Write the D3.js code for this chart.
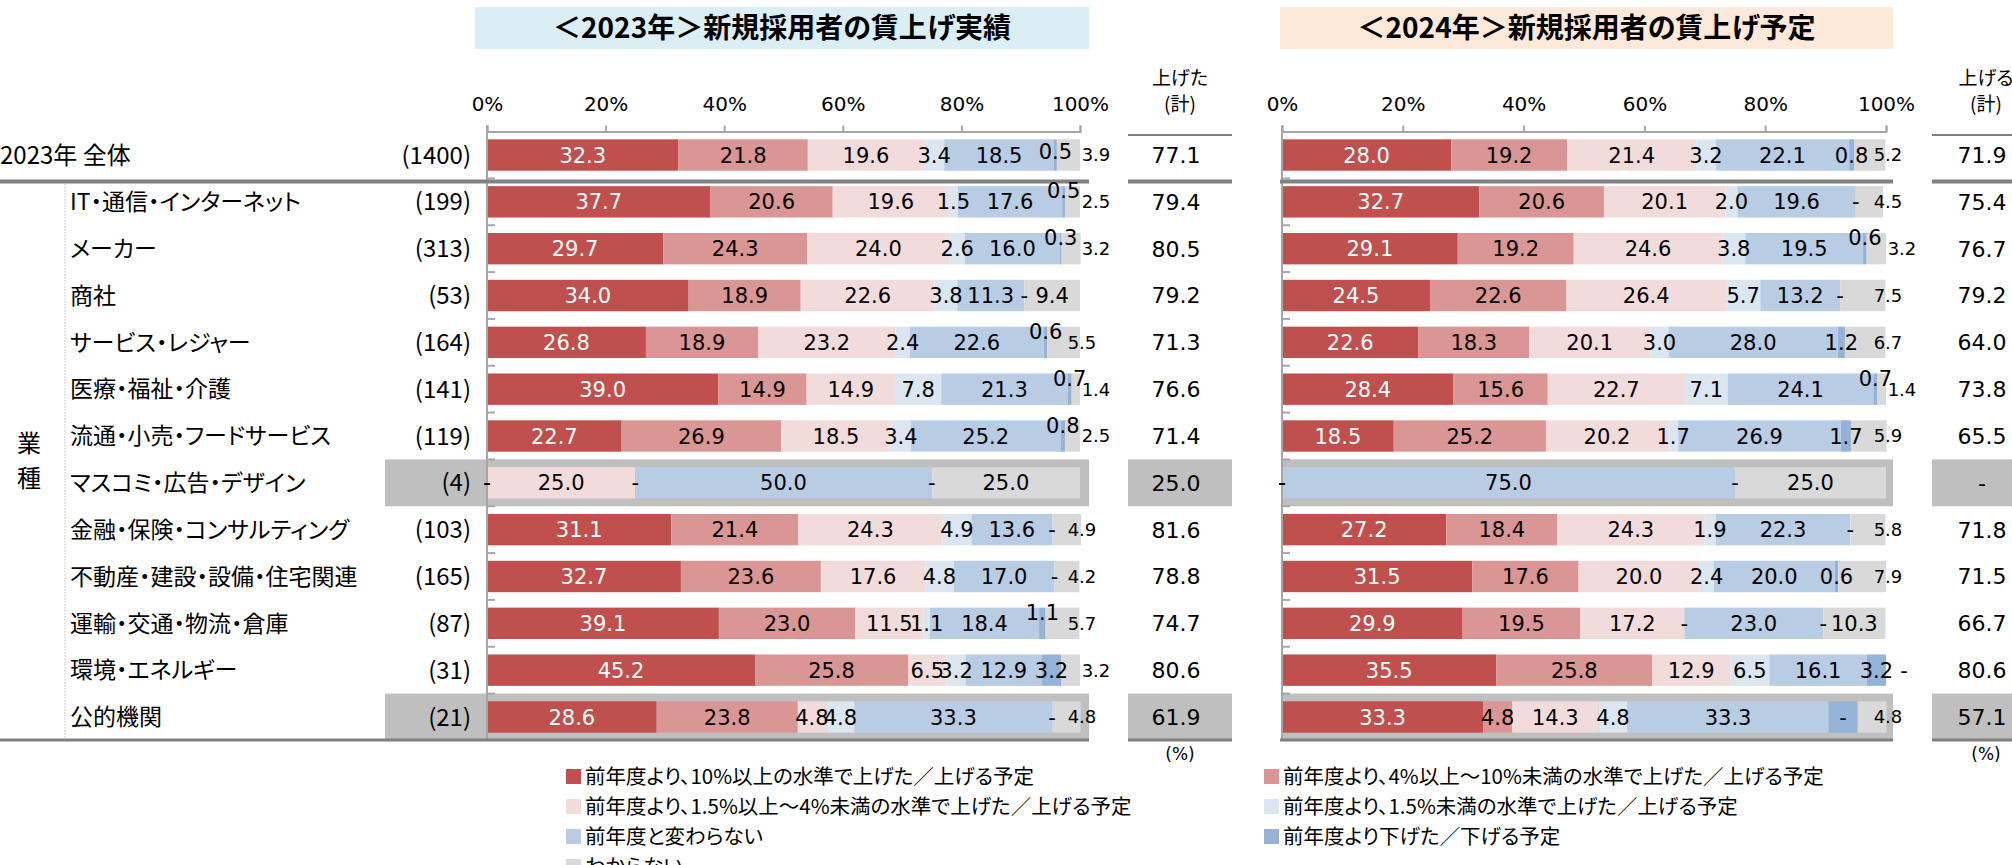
<!DOCTYPE html>
<html>
<head>
<meta charset="utf-8">
<script src="https://cdn.jsdelivr.net/npm/d3@7"></script>
<style>
body { margin: 0; background: #fff; }
svg { display: block; font-family: "Noto Sans CJK JP", sans-serif; font-feature-settings: "palt"; }
</style>
</head>
<body>
<div id="chart"></div>
<script>
var categories = ["2023年 全体", "IT・通信・インターネット", "メーカー", "商社", "サービス・レジャー",
                  "医療・福祉・介護", "流通・小売・フードサービス", "マスコミ・広告・デザイン",
                  "金融・保険・コンサルティング", "不動産・建設・設備・住宅関連", "運輸・交通・物流・倉庫",
                  "環境・エネルギー", "公的機関"];
var counts = ["(1400)", "(199)", "(313)", "(53)", "(164)", "(141)", "(119)", "(4)", "(103)", "(165)", "(87)", "(31)", "(21)"];
var highlightRows = [7, 12];
var ticks = [0, 20, 40, 60, 80, 100];

var seriesNames = ["前年度より、10%以上の水準で上げた／上げる予定",
                   "前年度より、4%以上～10%未満の水準で上げた／上げる予定",
                   "前年度より、1.5%以上～4%未満の水準で上げた／上げる予定",
                   "前年度より、1.5%未満の水準で上げた／上げる予定",
                   "前年度と変わらない",
                   "前年度より下げた／下げる予定",
                   "わからない"];
var seriesColors = ["#c0504d", "#da9694", "#f2dcdb", "#dce6f1", "#b8cce4", "#95b3d7", "#d9d9d9"];

// 2023 実績
var s1_2023 = [32.3, 37.7, 29.7, 34.0, 26.8, 39.0, 22.7, 0, 31.1, 32.7, 39.1, 45.2, 28.6];
var s2_2023 = [21.8, 20.6, 24.3, 18.9, 18.9, 14.9, 26.9, 0, 21.4, 23.6, 23.0, 25.8, 23.8];
var s3_2023 = [19.6, 19.6, 24.0, 22.6, 23.2, 14.9, 18.5, 25.0, 24.3, 17.6, 11.5, 6.5, 4.8];
var s4_2023 = [3.4, 1.5, 2.6, 3.8, 2.4, 7.8, 3.4, 0, 4.9, 4.8, 1.1, 3.2, 4.8];
var s5_2023 = [18.5, 17.6, 16.0, 11.3, 22.6, 21.3, 25.2, 50.0, 13.6, 17.0, 18.4, 12.9, 33.3];
var s6_2023 = [0.5, 0.5, 0.3, 0, 0.6, 0.7, 0.8, 0, 0, 0, 1.1, 3.2, 0];
var s7_2023 = [3.9, 2.5, 3.2, 9.4, 5.5, 1.4, 2.5, 25.0, 4.9, 4.2, 5.7, 3.2, 4.8];
var total_2023 = ["77.1", "79.4", "80.5", "79.2", "71.3", "76.6", "71.4", "25.0", "81.6", "78.8", "74.7", "80.6", "61.9"];

// 2024 予定
var s1_2024 = [28.0, 32.7, 29.1, 24.5, 22.6, 28.4, 18.5, 0, 27.2, 31.5, 29.9, 35.5, 33.3];
var s2_2024 = [19.2, 20.6, 19.2, 22.6, 18.3, 15.6, 25.2, 0, 18.4, 17.6, 19.5, 25.8, 4.8];
var s3_2024 = [21.4, 20.1, 24.6, 26.4, 20.1, 22.7, 20.2, 0, 24.3, 20.0, 17.2, 12.9, 14.3];
var s4_2024 = [3.2, 2.0, 3.8, 5.7, 3.0, 7.1, 1.7, 0, 1.9, 2.4, 0, 6.5, 4.8];
var s5_2024 = [22.1, 19.6, 19.5, 13.2, 28.0, 24.1, 26.9, 75.0, 22.3, 20.0, 23.0, 16.1, 33.3];
var s6_2024 = [0.8, 0, 0.6, 0, 1.2, 0.7, 1.7, 0, 0, 0.6, 0, 3.2, 4.8];
var s7_2024 = [5.2, 4.5, 3.2, 7.5, 6.7, 1.4, 5.9, 25.0, 5.8, 7.9, 10.3, 0, 4.8];
var total_2024 = ["71.9", "75.4", "76.7", "79.2", "64.0", "73.8", "65.5", "-", "71.8", "71.5", "66.7", "80.6", "57.1"];
// the source labels this segment "-" although it has width
var dashLabels_2024 = [[12, 5]];

var keys = ["s1", "s2", "s3", "s4", "s5", "s6", "s7"];

function buildRows(list) {
    return categories.map(function(c, i) {
        var o = {};
        keys.forEach(function(k, j) { o[k] = list[j][i]; });
        return o;
    });
}

var svg = d3.select("#chart").append("svg")
    .attr("width", 2012)
    .attr("height", 865);

var y = d3.scaleBand()
    .domain(d3.range(categories.length))
    .range([131.6, 740.4])
    .paddingInner(0.33)
    .paddingOuter(0.165);
var step = y.step();
var yTop = 131.6;
function yc(i) { return y(i) + y.bandwidth() / 2; }

var panels = [
    { title: "＜2023年＞新規採用者の賃上げ実績", fill: "#daeef3", box: [475, 1089], grayX: 385, lineX: 0,
      range: [487, 1080], data: buildRows([s1_2023, s2_2023, s3_2023, s4_2023, s5_2023, s6_2023, s7_2023]),
      totals: total_2023, totalCol: [1128, 1232], head: "上げた", raise: true, dashes: [] },
    { title: "＜2024年＞新規採用者の賃上げ予定", fill: "#fde9d9", box: [1280, 1893], grayX: 1280, lineX: 1280,
      range: [1282, 1886], data: buildRows([s1_2024, s2_2024, s3_2024, s4_2024, s5_2024, s6_2024, s7_2024]),
      totals: total_2024, totalCol: [1932, 2040], head: "上げる", raise: false, dashes: dashLabels_2024 }
];

// row labels (left side)
var lab = svg.append("g");
lab.append("text").attr("x", 0).attr("y", yc(0)).attr("dy", "0.36em")
    .attr("font-size", 24).text(categories[0]);
categories.slice(1).forEach(function(c, i) {
    lab.append("text").attr("x", 70).attr("y", yc(i + 1)).attr("dy", "0.36em")
        .attr("font-size", 23).text(c);
});
highlightRows.forEach(function(r) {
    lab.append("rect").attr("x", panels[0].grayX).attr("y", yTop + step * r)
        .attr("width", panels[0].range[0] - panels[0].grayX).attr("height", step).attr("fill", "#bfbfbf");
});
counts.forEach(function(c, i) {
    lab.append("text").attr("x", 471).attr("y", yc(i)).attr("dy", "0.36em")
        .attr("text-anchor", "end").attr("font-size", 24).text(c);
});
lab.append("text").attr("x", 29).attr("y", 443).attr("dy", "0.36em").attr("text-anchor", "middle")
    .attr("font-size", 24).text("業");
lab.append("text").attr("x", 29).attr("y", 478).attr("dy", "0.36em").attr("text-anchor", "middle")
    .attr("font-size", 24).text("種");
lab.append("line").attr("x1", 65).attr("x2", 65).attr("y1", yTop + step + 3).attr("y2", 740)
    .attr("stroke", "#9a9a9a").attr("stroke-dasharray", "1,2");

function drawPanel(p) {
    var x = d3.scaleLinear().domain([0, 100]).range(p.range);
    var g = svg.append("g");

    g.append("rect").attr("x", p.box[0]).attr("y", 7).attr("width", p.box[1] - p.box[0]).attr("height", 42)
        .attr("fill", p.fill);
    g.append("text").attr("x", (p.box[0] + p.box[1]) / 2).attr("y", 28).attr("dy", "0.36em")
        .attr("text-anchor", "middle").attr("font-size", 28).attr("font-weight", "bold").text(p.title);

    highlightRows.forEach(function(r) {
        var gx = Math.max(p.grayX, p.range[0]);
        g.append("rect").attr("x", gx).attr("y", yTop + step * r)
            .attr("width", p.box[1] - gx).attr("height", step).attr("fill", "#bfbfbf");
    });

    var stacked = d3.stack().keys(keys)(p.data);

    g.selectAll("g.layer").data(stacked).enter().append("g")
        .attr("fill", function(d, k) { return seriesColors[k]; })
        .selectAll("rect").data(function(d) { return d; }).enter().append("rect")
        .attr("x", function(d) { return x(d[0]); })
        .attr("y", function(d, i) { return y(i); })
        .attr("width", function(d) { return x(d[1]) - x(d[0]); })
        .attr("height", y.bandwidth());

    // top axis
    var ax = g.append("g").attr("transform", "translate(0," + yTop + ")")
        .call(d3.axisTop(x).tickValues(ticks).tickFormat(function(d) { return d + "%"; })
            .tickSize(6).tickPadding(15));
    ax.select(".domain").attr("stroke", "#a6a6a6").attr("stroke-width", 2);
    ax.selectAll(".tick line").attr("stroke", "#a6a6a6").attr("stroke-width", 2);
    ax.selectAll("text").attr("font-family", "DejaVu Sans").attr("font-size", 20).attr("fill", "#000");

    // left axis with row ticks
    g.append("line").attr("x1", x(0)).attr("x2", x(0)).attr("y1", yTop - 6).attr("y2", 740)
        .attr("stroke", "#a6a6a6").attr("stroke-width", 2);
    d3.range(1, categories.length).forEach(function(i) {
        g.append("line").attr("x1", x(0)).attr("x2", x(0) + 8)
            .attr("y1", yTop + step * i).attr("y2", yTop + step * i)
            .attr("stroke", "#a6a6a6").attr("stroke-width", 2);
    });

    // separator and bottom lines
    g.append("line").attr("x1", p.lineX).attr("x2", p.box[1]).attr("y1", 181.5).attr("y2", 181.5)
        .attr("stroke", "#808080").attr("stroke-width", 4);
    g.append("line").attr("x1", p.lineX).attr("x2", p.box[1]).attr("y1", 740).attr("y2", 740)
        .attr("stroke", "#808080").attr("stroke-width", 3);

    // data labels
    stacked.forEach(function(layer, k) {
        layer.forEach(function(d, i) {
            var v = d[1] - d[0];
            var last = p.data[i].s7;
            var forced = p.dashes.some(function(e) { return e[0] === i && e[1] === k; });
            var txt = (v === 0 || forced) ? "-" : d3.format(".1f")(v);
            var cx = x((d[0] + d[1]) / 2), cy = yc(i), fs = 21;
            if (k === 6 && v > 0 && v < 8) {
                cx = x(100) + (v < 4 ? 16 : 2);
                fs = 18;
            }
            if (k === 6 && v === 0) cx = x(100) + 18;
            if (k === 5 && v > 0 && v < 2 && (p.raise || last < 4)) cy -= (i === 0 ? 4 : 11);
            g.append("text").attr("x", cx).attr("y", cy).attr("dy", "0.36em")
                .attr("text-anchor", "middle").attr("font-family", "DejaVu Sans")
                .attr("font-size", fs).attr("fill", (k === 0 && v > 0) ? "#fff" : "#000")
                .text(txt);
        });
    });

    // totals column
    var tc = p.totalCol, tx = (tc[0] + tc[1]) / 2;
    g.append("text").attr("x", tx).attr("y", 78).attr("dy", "0.36em").attr("text-anchor", "middle")
        .attr("font-size", 19).text(p.head);
    g.append("text").attr("x", tx).attr("y", 104).attr("dy", "0.36em").attr("text-anchor", "middle")
        .attr("font-size", 19).text("(計)");
    highlightRows.forEach(function(r) {
        g.append("rect").attr("x", tc[0]).attr("y", yTop + step * r)
            .attr("width", tc[1] - tc[0]).attr("height", step).attr("fill", "#bfbfbf");
    });
    g.append("line").attr("x1", tc[0]).attr("x2", tc[1]).attr("y1", 135).attr("y2", 135)
        .attr("stroke", "#808080").attr("stroke-width", 2);
    g.append("line").attr("x1", tc[0]).attr("x2", tc[1]).attr("y1", 181.5).attr("y2", 181.5)
        .attr("stroke", "#808080").attr("stroke-width", 4);
    g.append("line").attr("x1", tc[0]).attr("x2", tc[1]).attr("y1", 740).attr("y2", 740)
        .attr("stroke", "#808080").attr("stroke-width", 3);
    p.totals.forEach(function(t, i) {
        g.append("text").attr("x", tx - 4).attr("y", yc(i)).attr("dy", "0.36em").attr("text-anchor", "middle")
            .attr("font-family", "DejaVu Sans").attr("font-size", 22).text(t);
    });
    g.append("text").attr("x", tx).attr("y", 754).attr("dy", "0.36em").attr("text-anchor", "middle")
        .attr("font-family", "DejaVu Sans").attr("font-size", 17).text("(%)");
}

panels.forEach(drawPanel);

// legend
var legendCols = [{ x: 566, items: [0, 2, 4, 6] }, { x: 1264, items: [1, 3, 5] }];
legendCols.forEach(function(col) {
    col.items.forEach(function(k, j) {
        var ly = 777 + j * 30;
        svg.append("rect").attr("x", col.x).attr("y", ly - 8).attr("width", 15).attr("height", 15)
            .attr("fill", seriesColors[k]);
        svg.append("text").attr("x", col.x + 19).attr("y", ly).attr("dy", "0.36em")
            .attr("font-size", 20.5).text(seriesNames[k]);
    });
});
</script>
</body>
</html>
